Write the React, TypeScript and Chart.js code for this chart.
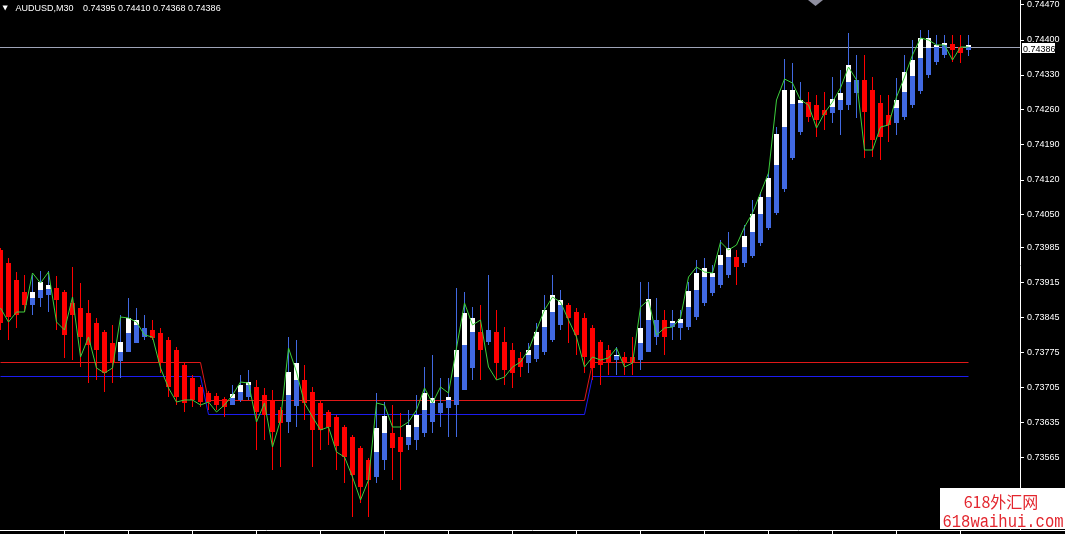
import React, { useEffect, useRef } from "react";
import { Chart, registerables } from "chart.js";

Chart.register(...registerables);

// ---- data (AUDUSD, M30) ----
const symbolTitle = "AUDUSD,M30";
const ohlcTitle = "0.74395 0.74410 0.74368 0.74386";
const lastPrice = 0.74386;

const highs = [
  0.73984, 0.73964, 0.73936, 0.7393, 0.7393, 0.73938, 0.73938, 0.73928, 0.739, 0.73946,
  0.73914, 0.7388, 0.73844, 0.7382, 0.7383, 0.7385, 0.73884, 0.73864, 0.7385, 0.7384,
  0.73824, 0.73806, 0.73786, 0.73756, 0.7373, 0.7371, 0.73698, 0.73694, 0.73686, 0.7371,
  0.7373, 0.7374, 0.7372, 0.73704, 0.737, 0.73666, 0.73806, 0.738, 0.7375, 0.73706,
  0.7368, 0.7366, 0.7365, 0.7363, 0.7361, 0.73588, 0.73564, 0.73694, 0.73676, 0.7367,
  0.73654, 0.7366, 0.7369, 0.73746, 0.7377, 0.73724, 0.73724, 0.73904, 0.73896, 0.73866,
  0.7387, 0.7393, 0.7386, 0.73826, 0.73794, 0.73776, 0.73794, 0.73834, 0.7389, 0.7393,
  0.739, 0.73874, 0.73864, 0.73854, 0.7383, 0.738, 0.7379, 0.73786, 0.73776, 0.73806,
  0.73916, 0.73916, 0.73884, 0.7386, 0.7386, 0.7386, 0.73916, 0.7396, 0.73964, 0.7395,
  0.74, 0.74016, 0.7398, 0.7403, 0.7408, 0.74096, 0.74136, 0.74226, 0.74362, 0.74354,
  0.74316, 0.74296, 0.7429, 0.74296, 0.74326, 0.7434, 0.74414, 0.7437, 0.7437, 0.74326,
  0.7429, 0.7429, 0.74324, 0.7437, 0.744, 0.7442, 0.7442, 0.7441, 0.7441, 0.7441,
  0.7441, 0.7441,
];

const lows = [
  0.7382, 0.738, 0.73824, 0.73856, 0.7385, 0.73866, 0.73856, 0.7382, 0.73764, 0.7376,
  0.73746, 0.73714, 0.7372, 0.73696, 0.73714, 0.73724, 0.73776, 0.73794, 0.738, 0.738,
  0.73734, 0.73686, 0.7367, 0.73656, 0.73666, 0.73666, 0.7366, 0.7366, 0.73646, 0.7367,
  0.73676, 0.7368, 0.7358, 0.736, 0.7354, 0.73546, 0.73614, 0.73626, 0.7364, 0.73546,
  0.7358, 0.7359, 0.7354, 0.73514, 0.73446, 0.73474, 0.73446, 0.73514, 0.7354, 0.7352,
  0.735, 0.7358, 0.7358, 0.73606, 0.73614, 0.73626, 0.73606, 0.73606, 0.737, 0.7372,
  0.7372, 0.7379, 0.7372, 0.7371, 0.73704, 0.73726, 0.73734, 0.73756, 0.7377, 0.73796,
  0.7382, 0.73794, 0.7377, 0.73734, 0.7372, 0.7371, 0.7373, 0.7373, 0.7373, 0.7373,
  0.7374, 0.73776, 0.7379, 0.7377, 0.738, 0.738, 0.7382, 0.7384, 0.73868, 0.73888,
  0.73904, 0.73924, 0.7391, 0.73946, 0.73964, 0.73988, 0.7402, 0.7405, 0.74096, 0.7416,
  0.7421, 0.74236, 0.74206, 0.7422, 0.74234, 0.7421, 0.7426, 0.74244, 0.74164, 0.74166,
  0.7416, 0.74196, 0.7421, 0.7424, 0.74264, 0.74292, 0.74324, 0.7435, 0.74364, 0.74356,
  0.74354, 0.74368,
];

const haOpen = [
  0.7398, 0.73954, 0.7392, 0.73896, 0.7387, 0.73884, 0.7389, 0.73904, 0.73896, 0.73874,
  0.73864, 0.73854, 0.73834, 0.73816, 0.73794, 0.73758, 0.73776, 0.73794, 0.73806, 0.7382,
  0.73814, 0.738, 0.7378, 0.7375, 0.73724, 0.73706, 0.73694, 0.73688, 0.73682, 0.7367,
  0.7368, 0.73686, 0.73706, 0.7369, 0.7368, 0.7366, 0.73636, 0.73668, 0.7372, 0.73696,
  0.73674, 0.73656, 0.73646, 0.73626, 0.73606, 0.73584, 0.7356, 0.73526, 0.7356, 0.73614,
  0.73606, 0.7359, 0.736, 0.73614, 0.73636, 0.73654, 0.73664, 0.7367, 0.737, 0.73744,
  0.73816, 0.73796, 0.73816, 0.73796, 0.7378, 0.73764, 0.73754, 0.73762, 0.73776, 0.738,
  0.7383, 0.7387, 0.73856, 0.73844, 0.73824, 0.73796, 0.7378, 0.7376, 0.73766, 0.73766,
  0.7376, 0.73776, 0.73806, 0.7384, 0.73826, 0.73824, 0.73826, 0.73846, 0.73874, 0.73894,
  0.7391, 0.7393, 0.73966, 0.73954, 0.73968, 0.73994, 0.74024, 0.74054, 0.74102, 0.74164,
  0.74216, 0.74276, 0.7427, 0.7426, 0.74254, 0.7426, 0.7427, 0.74294, 0.7432, 0.743,
  0.74274, 0.7425, 0.74234, 0.74246, 0.7427, 0.74298, 0.7433, 0.74356, 0.7437, 0.74392,
  0.74386, 0.7438,
];

const haClose = [
  0.73834, 0.73846, 0.7385, 0.7387, 0.73884, 0.739, 0.73902, 0.7388, 0.7381, 0.7385,
  0.73806, 0.7379, 0.7378, 0.73734, 0.73754, 0.73776, 0.73814, 0.7383, 0.73824, 0.73804,
  0.73754, 0.73706, 0.73686, 0.73674, 0.7368, 0.73676, 0.73676, 0.7367, 0.73666, 0.73684,
  0.73696, 0.7371, 0.73656, 0.7365, 0.73616, 0.73634, 0.7369, 0.7372, 0.73674, 0.7362,
  0.7362, 0.73626, 0.73588, 0.73566, 0.7353, 0.73506, 0.7352, 0.73576, 0.73614, 0.73584,
  0.73576, 0.73606, 0.73626, 0.7366, 0.73674, 0.73674, 0.7368, 0.73726, 0.7379, 0.73816,
  0.7378, 0.7382, 0.73754, 0.7374, 0.73734, 0.73746, 0.7377, 0.7379, 0.73826, 0.73856,
  0.7387, 0.73844, 0.7381, 0.73766, 0.73744, 0.7375, 0.73756, 0.73768, 0.73756, 0.73756,
  0.73794, 0.7384, 0.7384, 0.73806, 0.73834, 0.73834, 0.73866, 0.739, 0.73926, 0.73926,
  0.7395, 0.73966, 0.73946, 0.73986, 0.74016, 0.74052, 0.74086, 0.7415, 0.74226, 0.74272,
  0.74274, 0.74246, 0.7424, 0.7425, 0.74266, 0.7428, 0.74316, 0.7432, 0.74256, 0.742,
  0.74206, 0.7423, 0.74264, 0.74296, 0.74328, 0.74364, 0.74384, 0.74386, 0.7439, 0.7438,
  0.74374, 0.74386,
];

// top of the white (price-candle) body above the Heiken Ashi body, bullish bars only
const whiteTop = [
  null, null, null, null, 0.73896, 0.73916, 0.7391, null, null, null,
  null, null, null, null, null, 0.73796, 0.73844, 0.7384, null, null,
  null, null, null, null, null, null, null, null, null, 0.73692,
  0.7371, 0.73716, null, null, null, null, 0.73736, 0.73754, null, null,
  null, null, null, null, null, null, null, 0.73624, 0.73648, null,
  null, 0.7363, 0.7365, 0.73694, 0.73684, null, 0.73686, 0.7378, 0.73854, 0.73844,
  null, null, null, null, null, null, 0.7378, 0.73816, 0.7386, 0.7389,
  0.7388, null, null, null, null, null, null, 0.7377, null, null,
  0.73824, 0.73882, null, null, 0.73838, 0.73842, 0.73898, 0.73934, 0.73944, 0.73934,
  0.7397, 0.73984, null, 0.74008, 0.74052, 0.74086, 0.74124, 0.74212, 0.743, 0.743,
  0.7428, null, null, null, 0.74282, 0.74294, 0.7435, null, null, null,
  null, null, 0.7428, 0.74336, 0.7436, 0.74404, 0.74404, 0.7439, 0.74394, null,
  null, 0.7439,
];

const greenLine = [
  0.73864, 0.73836, 0.73856, 0.73856, 0.73934, 0.73914, 0.73936, 0.73836, 0.7382, 0.73886,
  0.73766, 0.73806, 0.73744, 0.73734, 0.73744, 0.73846, 0.73844, 0.73836, 0.7381, 0.73806,
  0.73744, 0.73704, 0.73676, 0.7368, 0.7368, 0.7367, 0.73676, 0.73656, 0.7367, 0.7369,
  0.73716, 0.73714, 0.73636, 0.73674, 0.73586, 0.7364, 0.73784, 0.73736, 0.73674, 0.73646,
  0.7362, 0.73626, 0.73576, 0.73566, 0.73526, 0.7348, 0.7352, 0.73674, 0.7367, 0.73626,
  0.73626, 0.73636, 0.7366, 0.73704, 0.73674, 0.73706, 0.73694, 0.73784, 0.73874, 0.7383,
  0.7384, 0.73746, 0.7372, 0.73726, 0.73746, 0.73756, 0.7378, 0.7382, 0.7386, 0.73886,
  0.73876, 0.7384, 0.73806, 0.73746, 0.73766, 0.7376, 0.73764, 0.73784, 0.73746, 0.73754,
  0.73866, 0.7388, 0.7381, 0.73824, 0.73826, 0.73844, 0.73926, 0.73946, 0.73936, 0.73934,
  0.73996, 0.7398, 0.7399, 0.74026, 0.74054, 0.74094, 0.74134, 0.7428, 0.74322, 0.74314,
  0.7428, 0.7427, 0.74224, 0.74254, 0.74276, 0.74304, 0.74346, 0.7432, 0.7418, 0.7418,
  0.74226, 0.7423, 0.74286, 0.74326, 0.7437, 0.74404, 0.744, 0.7439, 0.7439, 0.7436,
  0.74386, 0.74386,
];

// step lines (bar index where the level changes, and the level)
const stepBars = [0, 25, 26, 73, 74, 121];
const redLevels = [0.73755, 0.73755, 0.73679, 0.73679, 0.73755, 0.73755];
const blueLevels = [0.73727, 0.73727, 0.73651, 0.73651, 0.73727, 0.73727];

const priceTicks = [
  0.7447, 0.744, 0.7433, 0.7426, 0.7419, 0.7412, 0.7405, 0.73985, 0.73915, 0.73845,
  0.73775, 0.73705, 0.73635, 0.73565,
];

const BLUE = "#4169e1";
const RED = "#ff0000";
const AXIS_FONT = '9px "Liberation Sans", Arial, sans-serif';

const overlayPlugin = {
  id: "mt4Overlay",
  beforeDraw(chart: any) {
    const c = chart.ctx;
    c.save();
    c.fillStyle = "#000";
    c.fillRect(0, 0, chart.width, chart.height);
    c.restore();
  },
  beforeDatasetsDraw(chart: any) {
    const c = chart.ctx;
    const ys = chart.scales.y;
    const a = chart.chartArea;
    const py = Math.round(ys.getPixelForValue(lastPrice)) + 0.5;
    c.save();
    c.strokeStyle = "#9ea4b8";
    c.lineWidth = 1;
    c.beginPath();
    c.moveTo(0, py);
    c.lineTo(a.right, py);
    c.stroke();
    c.restore();
  },
  afterDraw(chart: any) {
    const c = chart.ctx;
    const ys = chart.scales.y;
    const a = chart.chartArea;
    c.save();
    // title
    c.fillStyle = "#ffffff";
    c.beginPath();
    c.moveTo(2.5, 5.5);
    c.lineTo(7.8, 5.5);
    c.lineTo(5.15, 10.5);
    c.closePath();
    c.fill();
    c.font = AXIS_FONT;
    c.textBaseline = "alphabetic";
    c.textAlign = "left";
    c.fillText(symbolTitle, 15.5, 11);
    c.fillText(ohlcTitle, 83, 11);

    // chart shift marker
    c.fillStyle = "#8e8e9e";
    c.beginPath();
    c.moveTo(808, 0);
    c.lineTo(823, 0);
    c.lineTo(815.5, 6);
    c.closePath();
    c.fill();

    // bottom time axis
    const by = a.bottom + 0.5;
    c.strokeStyle = "#ffffff";
    c.lineWidth = 1;
    c.beginPath();
    c.moveTo(0, by);
    c.lineTo(chart.width, by);
    for (let k = 1; k <= 15; k++) {
      const tx = k * 64 + 0.5;
      c.moveTo(tx, by);
      c.lineTo(tx, chart.height);
    }
    c.stroke();

    // current price label
    const py = Math.round(ys.getPixelForValue(lastPrice));
    c.fillStyle = "#ffffff";
    c.fillRect(a.right + 2, py - 4, 33, 10);
    c.fillStyle = "#000000";
    c.font = AXIS_FONT;
    c.fillText(lastPrice.toFixed(5), a.right + 3, py + 4.5);

    // watermark
    c.fillStyle = "#ffffff";
    c.fillRect(940, 488, 125, 41);
    c.fillStyle = "#e3262e";
    c.textAlign = "center";
    c.font = '16px "Noto Sans CJK SC", sans-serif';
    c.fillText("618外汇网", 1001, 508);
    c.save();
    c.translate(1003, 527);
    c.scale(1, 1.2);
    c.font = '16px "Liberation Mono", "DejaVu Sans Mono", monospace';
    c.fillText("618waihui.com", 0, 0, 121);
    c.restore();
    c.restore();
  },
};

export default function App() {
  const ref = useRef<HTMLCanvasElement | null>(null);

  useEffect(() => {
    if (!ref.current) return;
    const idx = highs.map((_, i) => i);
    const bull = idx.map((i) => haClose[i] >= haOpen[i]);
    const barCommon = {
      grouped: false,
      inflateAmount: 0,
      borderWidth: 0,
      barPercentage: 1,
      categoryPercentage: 1,
    };
    const chart = new Chart(ref.current, {
      type: "bar",
      data: {
        datasets: [
          {
            type: "line",
            data: idx.map((i) => ({ x: i, y: greenLine[i] })),
            borderColor: "#3ccf3c",
            borderWidth: 1,
            pointRadius: 0,
            tension: 0,
            order: 1,
          },
          {
            type: "bar",
            data: idx.map((i) => ({ x: i, y: [haOpen[i], haClose[i]] })),
            backgroundColor: idx.map((i) => (bull[i] ? BLUE : RED)),
            maxBarThickness: 5,
            order: 2,
            ...barCommon,
          },
          {
            type: "bar",
            data: idx
              .filter((i) => whiteTop[i] != null)
              .map((i) => ({ x: i, y: [haClose[i], whiteTop[i]] })),
            backgroundColor: "#ffffff",
            maxBarThickness: 5,
            order: 3,
            ...barCommon,
          },
          {
            type: "bar",
            data: idx.map((i) => ({ x: i, y: [lows[i], highs[i]] })),
            backgroundColor: idx.map((i) => (bull[i] ? BLUE : RED)),
            maxBarThickness: 1,
            order: 4,
            ...barCommon,
          },
          {
            type: "line",
            data: stepBars.map((b, k) => ({ x: b, y: redLevels[k] })),
            borderColor: "#e01818",
            borderWidth: 1,
            pointRadius: 0,
            tension: 0,
            order: 5,
          },
          {
            type: "line",
            data: stepBars.map((b, k) => ({ x: b, y: blueLevels[k] })),
            borderColor: "#1c1cf0",
            borderWidth: 1,
            pointRadius: 0,
            tension: 0,
            order: 5,
          },
        ],
      },
      options: {
        animation: false,
        responsive: false,
        devicePixelRatio: 1,
        events: [],
        layout: { padding: { left: 0, right: 0, top: 0, bottom: 4 } },
        plugins: {
          legend: { display: false },
          tooltip: { enabled: false },
          title: { display: false },
        },
        scales: {
          x: {
            type: "linear",
            min: -0.0625,
            max: 127.4375,
            offset: false,
            display: false,
          },
          y: {
            type: "linear",
            position: "right",
            min: 0.7342,
            max: 0.7448,
            afterFit: (s: any) => {
              s.width = 45;
              s.paddingTop = 0;
              s.paddingBottom = 0;
            },
            afterBuildTicks: (s: any) => {
              s.ticks = priceTicks.map((v) => ({ value: v }));
            },
            ticks: {
              autoSkip: false,
              color: "#ffffff",
              padding: 3,
              font: { family: '"Liberation Sans", Arial, sans-serif', size: 9 },
              callback: (v: any) => Number(v).toFixed(5),
            },
            grid: {
              display: true,
              drawOnChartArea: false,
              drawTicks: true,
              tickLength: 4,
              color: "#ffffff",
            },
            border: { display: true, color: "#ffffff", width: 1 },
          },
        },
      },
      plugins: [overlayPlugin],
    } as any);
    return () => chart.destroy();
  }, []);

  return (
    <div
      style={{
        position: "fixed",
        left: 0,
        top: 0,
        width: 1065,
        height: 534,
        background: "#000",
        overflow: "hidden",
      }}
    >
      <canvas
        ref={ref}
        width={1065}
        height={534}
        style={{ display: "block", width: 1065, height: 534 }}
      />
    </div>
  );
}
